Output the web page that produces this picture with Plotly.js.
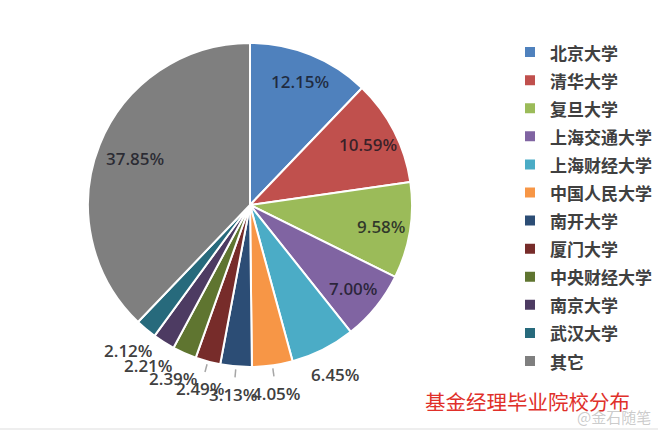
<!DOCTYPE html>
<html>
<head>
<meta charset="utf-8">
<script src="https://cdn.plot.ly/plotly-3.0.1.min.js"></script>
<style>html,body{margin:0;padding:0;background:#fff;}#chart{width:658px;height:430px;}</style>
</head>
<body>
<div id="chart"></div>
<script>
const schools = ["北京大学","清华大学","复旦大学","上海交通大学","上海财经大学","中国人民大学","南开大学","厦门大学","中央财经大学","南京大学","武汉大学","其它"];
const shares = [12.15, 10.59, 9.58, 7.00, 6.45, 4.05, 3.13, 2.49, 2.39, 2.21, 2.12, 37.85];
const colors = ["#4F81BD","#C0504D","#9BBB59","#8064A2","#4BACC6","#F79646","#2C4D75","#772C2A","#5F7530","#4D3B62","#276A7C","#7F7F7F"];
const labelPos = ["inside","inside","inside","inside","outside","outside","outside","outside","outside","outside","outside","inside"];
const leaderLine = [false,false,false,false,false,true,true,true,false,false,false,false];
const chartTitle = "基金经理毕业院校分布";
const watermark = "@金石随笔";

// pie geometry (pixels in the 658x430 page)
const W = 658, H = 430;
const cx = 250, cy = 205, R = 162;
const px = x => x / W;
const py = y => 1 - y / H;

const trace = {
  type: "pie",
  labels: schools.map(s => '<span style="font-size:17px;font-weight:bold">' + s + '</span>'),
  values: shares,
  sort: false,
  direction: "clockwise",
  rotation: 0,
  marker: {colors: colors, line: {color: "#ffffff", width: 2}},
  textinfo: "none",
  hoverinfo: "label+percent",
  domain: {x: [px(cx - R), px(cx + R)], y: [py(cy + R), py(cy - R)]}
};

// data labels placed along each slice's mid angle
const total = shares.reduce((a, b) => a + b, 0);
const annotations = [];
const shapes = [];
let cum = 0;
shares.forEach((v, i) => {
  const mid = (cum + v / 2) / total * 2 * Math.PI;
  cum += v;
  const s = Math.sin(mid), c = Math.cos(mid);
  const inside = labelPos[i] === "inside";
  const rr = inside ? (i === 11 ? 124 : 133) : 190;
  annotations.push({
    text: v.toFixed(2) + "%",
    x: px(cx + rr * s), y: py(cy - rr * c),
    xref: "paper", yref: "paper", xanchor: "center", yanchor: "middle", showarrow: false,
    font: {family: "Open Sans", size: 17, weight: 600,
           color: inside ? "rgba(20,20,30,0.78)" : "#404040"}
  });
  if (leaderLine[i]) {
    shapes.push({type: "line", xref: "paper", yref: "paper",
      x0: px(cx + (R + 3) * s), y0: py(cy - (R + 3) * c),
      x1: px(cx + (R + 11) * s), y1: py(cy - (R + 11) * c),
      line: {color: "#a6a6a6", width: 1.5}});
  }
});

annotations.push({text: chartTitle, x: px(527), y: py(401), xref: "paper", yref: "paper",
  xanchor: "center", yanchor: "middle", showarrow: false,
  font: {family: "Noto Sans CJK SC", size: 20.5, color: "#E0302A"}});
annotations.push({text: watermark, x: px(614), y: py(416), xref: "paper", yref: "paper",
  xanchor: "center", yanchor: "middle", showarrow: false,
  font: {family: "Noto Sans CJK SC", size: 15, color: "rgba(160,160,160,0.55)"}});

shapes.push({type: "rect", xref: "paper", yref: "paper", x0: 0, x1: 1, y0: 0, y1: py(428),
  line: {width: 0}, fillcolor: "#eeeeee", layer: "below"});

const layout = {
  width: W, height: H,
  margin: {l: 0, r: 0, t: 0, b: 0},
  paper_bgcolor: "#ffffff",
  showlegend: true,
  legend: {
    x: px(510), y: py(33), xanchor: "left", yanchor: "top",
    font: {family: "Noto Sans CJK SC", size: 19.3, color: "#404040", weight: "bold"},
    itemwidth: 30, tracegroupgap: 0
  },
  annotations: annotations,
  shapes: shapes
};

Plotly.newPlot("chart", [trace], layout, {displayModeBar: false, staticPlot: true});
</script>
</body>
</html>
